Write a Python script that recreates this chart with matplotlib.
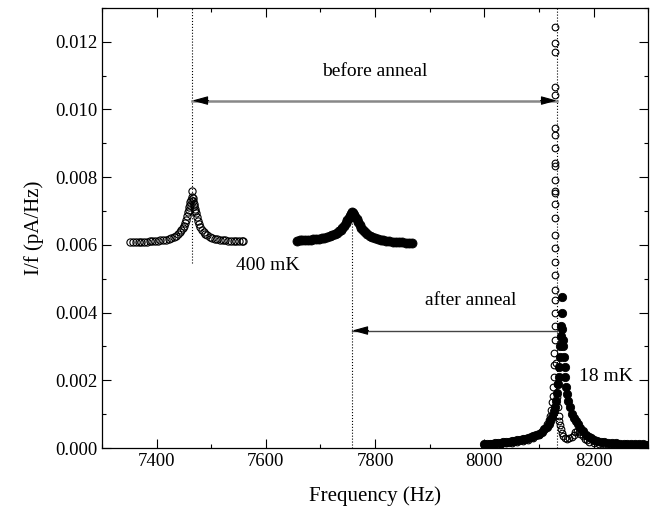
import matplotlib
matplotlib.use("Agg")
import matplotlib.pyplot as plt
from matplotlib.ticker import MultipleLocator, FormatStrFormatter

plt.rcParams["font.family"] = ["Liberation Serif", "DejaVu Serif"]

# 400 mK, before anneal (open circles)
f_400_before = [7352, 7357, 7362, 7367, 7372, 7377, 7382, 7387, 7392, 7397,
                7402, 7407, 7412, 7417, 7422, 7427, 7431, 7435, 7439, 7442,
                7445, 7448, 7450, 7452, 7454, 7456, 7458, 7459, 7460, 7461,
                7462, 7463, 7464, 7465, 7466, 7467, 7468, 7469, 7470, 7471,
                7472, 7474, 7476, 7478, 7480, 7483, 7486, 7489, 7493, 7497,
                7501, 7506, 7511, 7516, 7521, 7526, 7531, 7536, 7541, 7546,
                7551, 7556, 7559]
i_400_before = [0.00607, 0.00607, 0.00608, 0.00608, 0.00608, 0.00609, 0.00609, 0.00610, 0.00610, 0.00611,
                0.00612, 0.00613, 0.00614, 0.00615, 0.00617, 0.00620, 0.00623, 0.00627, 0.00632, 0.00637,
                0.00643, 0.00651, 0.00657, 0.00665, 0.00674, 0.00685, 0.00697, 0.00704, 0.00711, 0.00718,
                0.00726, 0.00733, 0.00740, 0.00759, 0.00738, 0.00730, 0.00722, 0.00714, 0.00707, 0.00700,
                0.00693, 0.00681, 0.00670, 0.00661, 0.00653, 0.00645, 0.00638, 0.00633, 0.00628, 0.00624,
                0.00621, 0.00618, 0.00616, 0.00615, 0.00614, 0.00613, 0.00612, 0.00612, 0.00611, 0.00611,
                0.00611, 0.00610, 0.00610]

# 400 mK, after anneal (filled circles)
f_400_after = [7657, 7662, 7667, 7672, 7677, 7682, 7687, 7692, 7697, 7702,
               7707, 7712, 7717, 7722, 7726, 7730, 7734, 7737, 7740, 7743,
               7746, 7749, 7752, 7754, 7756, 7758, 7760, 7762, 7764, 7766,
               7769, 7772, 7775, 7778, 7782, 7786, 7790, 7795, 7800, 7805,
               7810, 7815, 7820, 7826, 7832, 7838, 7844, 7850, 7856, 7862,
               7867]
i_400_after = [0.00612, 0.00613, 0.00613, 0.00614, 0.00614, 0.00615, 0.00616, 0.00617, 0.00618, 0.00619,
               0.00621, 0.00623, 0.00625, 0.00628, 0.00631, 0.00635, 0.00640, 0.00645, 0.00651, 0.00657,
               0.00664, 0.00672, 0.00680, 0.00686, 0.00692, 0.00697, 0.00694, 0.00689, 0.00683, 0.00676,
               0.00667, 0.00659, 0.00651, 0.00644, 0.00637, 0.00631, 0.00627, 0.00623, 0.00620, 0.00617,
               0.00615, 0.00613, 0.00611, 0.00610, 0.00609, 0.00608, 0.00607, 0.00607, 0.00606, 0.00606,
               0.00606]

# 18 mK, before anneal (open circles)
f_18_before = [8000, 8010, 8020, 8030, 8040, 8050, 8060, 8070, 8080, 8090,
               8100, 8106, 8111, 8115, 8118, 8120, 8122, 8124, 8125, 8126,
               8127, 8128, 8128.5, 8129, 8129, 8129, 8129, 8129.5, 8130, 8130,
               8130, 8130, 8130, 8130, 8130, 8130, 8130, 8130, 8130, 8130,
               8130, 8130, 8130, 8130, 8130, 8130, 8130, 8132, 8133, 8134,
               8135, 8136, 8137, 8138, 8140, 8142, 8145, 8148, 8152, 8156,
               8160, 8164, 8167, 8170, 8173, 8176, 8180, 8184, 8188, 8192,
               8200, 8210, 8220, 8230, 8240, 8250, 8260, 8270, 8280, 8290,
               8298]
i_18_before = [0.00010, 0.00011, 0.00012, 0.00013, 0.00014, 0.00016, 0.00018, 0.00021, 0.00025, 0.00031,
               0.00040, 0.00048, 0.00058, 0.00070, 0.00082, 0.00095, 0.00112, 0.00135, 0.00155, 0.00180,
               0.00210, 0.00245, 0.00280, 0.00320, 0.00360, 0.00400, 0.00437, 0.00467, 0.00510, 0.00550,
               0.00590, 0.00630, 0.00680, 0.00720, 0.00753, 0.00759, 0.00792, 0.00833, 0.00842, 0.00886,
               0.00925, 0.00945, 0.01043, 0.01066, 0.01170, 0.01196, 0.01244, 0.00250, 0.00190, 0.00150,
               0.00120, 0.00095, 0.00080, 0.00068, 0.00055, 0.00045, 0.00037, 0.00031, 0.00028, 0.00030,
               0.00034, 0.00040, 0.00046, 0.00050, 0.00047, 0.00042, 0.00035, 0.00028, 0.00023, 0.00019,
               0.00015, 0.00013, 0.00012, 0.00012, 0.00011, 0.00010, 0.00010, 0.00010, 0.00010, 0.00010,
               0.00010]

# 18 mK, after anneal (filled circles)
f_18_after = [8000, 8005, 8010, 8015, 8020, 8025, 8030, 8035, 8040, 8045,
              8050, 8055, 8060, 8065, 8070, 8075, 8080, 8085, 8090, 8095,
              8100, 8105, 8110, 8114, 8118, 8121, 8124, 8127, 8129, 8131,
              8133, 8135, 8136, 8137, 8138, 8139, 8140, 8141, 8142, 8143,
              8143, 8144, 8145, 8146, 8147, 8148, 8150, 8152, 8154, 8157,
              8160, 8164, 8168, 8172, 8176, 8181, 8186, 8191, 8196, 8201,
              8207, 8213, 8220, 8227, 8234, 8241, 8248, 8255, 8262, 8269,
              8276, 8283, 8290, 8297]
i_18_after = [0.00012, 0.00012, 0.00013, 0.00013, 0.00014, 0.00015, 0.00016, 0.00017, 0.00018, 0.00019,
              0.00020, 0.00021, 0.00023, 0.00024, 0.00026, 0.00028, 0.00030, 0.00033, 0.00036, 0.00039,
              0.00043, 0.00048, 0.00055, 0.00062, 0.00071, 0.00080, 0.00092, 0.00108, 0.00122, 0.00140,
              0.00162, 0.00190, 0.00210, 0.00240, 0.00270, 0.00300, 0.00330, 0.00360, 0.00400, 0.00446,
              0.00351, 0.00320, 0.00300, 0.00270, 0.00240, 0.00210, 0.00180, 0.00160, 0.00140, 0.00120,
              0.00100, 0.00090, 0.00080, 0.00070, 0.00060, 0.00050, 0.00040, 0.00034, 0.00029, 0.00025,
              0.00022, 0.00019, 0.00017, 0.00016, 0.00015, 0.00014, 0.00013, 0.00013, 0.00012, 0.00012,
              0.00011, 0.00011, 0.00011, 0.00010]

# resonance markers (Hz)
f_peak_400_before = 7465
f_peak_400_after = 7758
f_peak_18 = 8133

fig, ax = plt.subplots(figsize=(6.54, 5.18), dpi=100)
fig.subplots_adjust(left=0.156, right=0.991, top=0.985, bottom=0.135)

# dotted guide lines
ax.plot([f_peak_400_before, f_peak_400_before], [0.00547, 0.013], ls=":", color="k", lw=0.8)
ax.plot([f_peak_400_after, f_peak_400_after], [0, 0.00697], ls=":", color="k", lw=0.8)
ax.plot([f_peak_18, f_peak_18], [0, 0.013], ls=":", color="k", lw=0.8)

ax.plot(f_400_after, i_400_after, "o", ms=6.5, mfc="k", mec="k", mew=0.6)
ax.plot(f_18_after, i_18_after, "o", ms=6, mfc="k", mec="k", mew=0.6)
ax.plot(f_400_before, i_400_before, "o", ms=5.2, mfc="none", mec="k", mew=0.8)
ax.plot(f_18_before, i_18_before, "o", ms=4.8, mfc="none", mec="k", mew=0.8)

# arrows: gray shaft, black heads
y_before = 0.01026
y_after = 0.00347
ax.plot([f_peak_400_before, f_peak_18], [y_before, y_before], color="#888888", lw=1.8)
head = dict(arrowstyle="-|>,head_length=0.8,head_width=0.22", mutation_scale=12,
            fc="k", ec="k", lw=0.8, shrinkA=0, shrinkB=0)
ax.annotate("", xy=(f_peak_400_before, y_before), xytext=(f_peak_400_before + 30, y_before), arrowprops=head)
ax.annotate("", xy=(f_peak_18, y_before), xytext=(f_peak_18 - 30, y_before), arrowprops=head)
ax.plot([f_peak_400_after, f_peak_18], [y_after, y_after], color="#444444", lw=1.0)
ax.annotate("", xy=(f_peak_400_after, y_after), xytext=(f_peak_400_after + 30, y_after), arrowprops=head)

ax.text(7800, 0.01111, "before anneal", ha="center", va="center", fontsize=14)
ax.text(7976, 0.00437, "after anneal", ha="center", va="center", fontsize=14)
ax.text(7604, 0.0054, "400 mK", ha="center", va="center", fontsize=14)
ax.text(8223, 0.0021, "18 mK", ha="center", va="center", fontsize=14)

ax.set_xlim(7300, 8300)
ax.set_ylim(0, 0.013)
ax.xaxis.set_major_locator(MultipleLocator(200))
ax.xaxis.set_minor_locator(MultipleLocator(100))
ax.yaxis.set_major_locator(MultipleLocator(0.002))
ax.yaxis.set_minor_locator(MultipleLocator(0.001))
ax.yaxis.set_major_formatter(FormatStrFormatter("%.3f"))
ax.tick_params(which="both", direction="in", top=True, right=True, labelsize=13.5, width=0.8)
ax.tick_params(which="major", length=6.5)
ax.tick_params(which="minor", length=3.2)
for s in ax.spines.values():
    s.set_linewidth(0.9)

ax.set_xlabel("Frequency (Hz)", fontsize=15, labelpad=12)
ax.set_ylabel("I/f (pA/Hz)", fontsize=15, labelpad=8)

plt.savefig("out.png", dpi=100)
